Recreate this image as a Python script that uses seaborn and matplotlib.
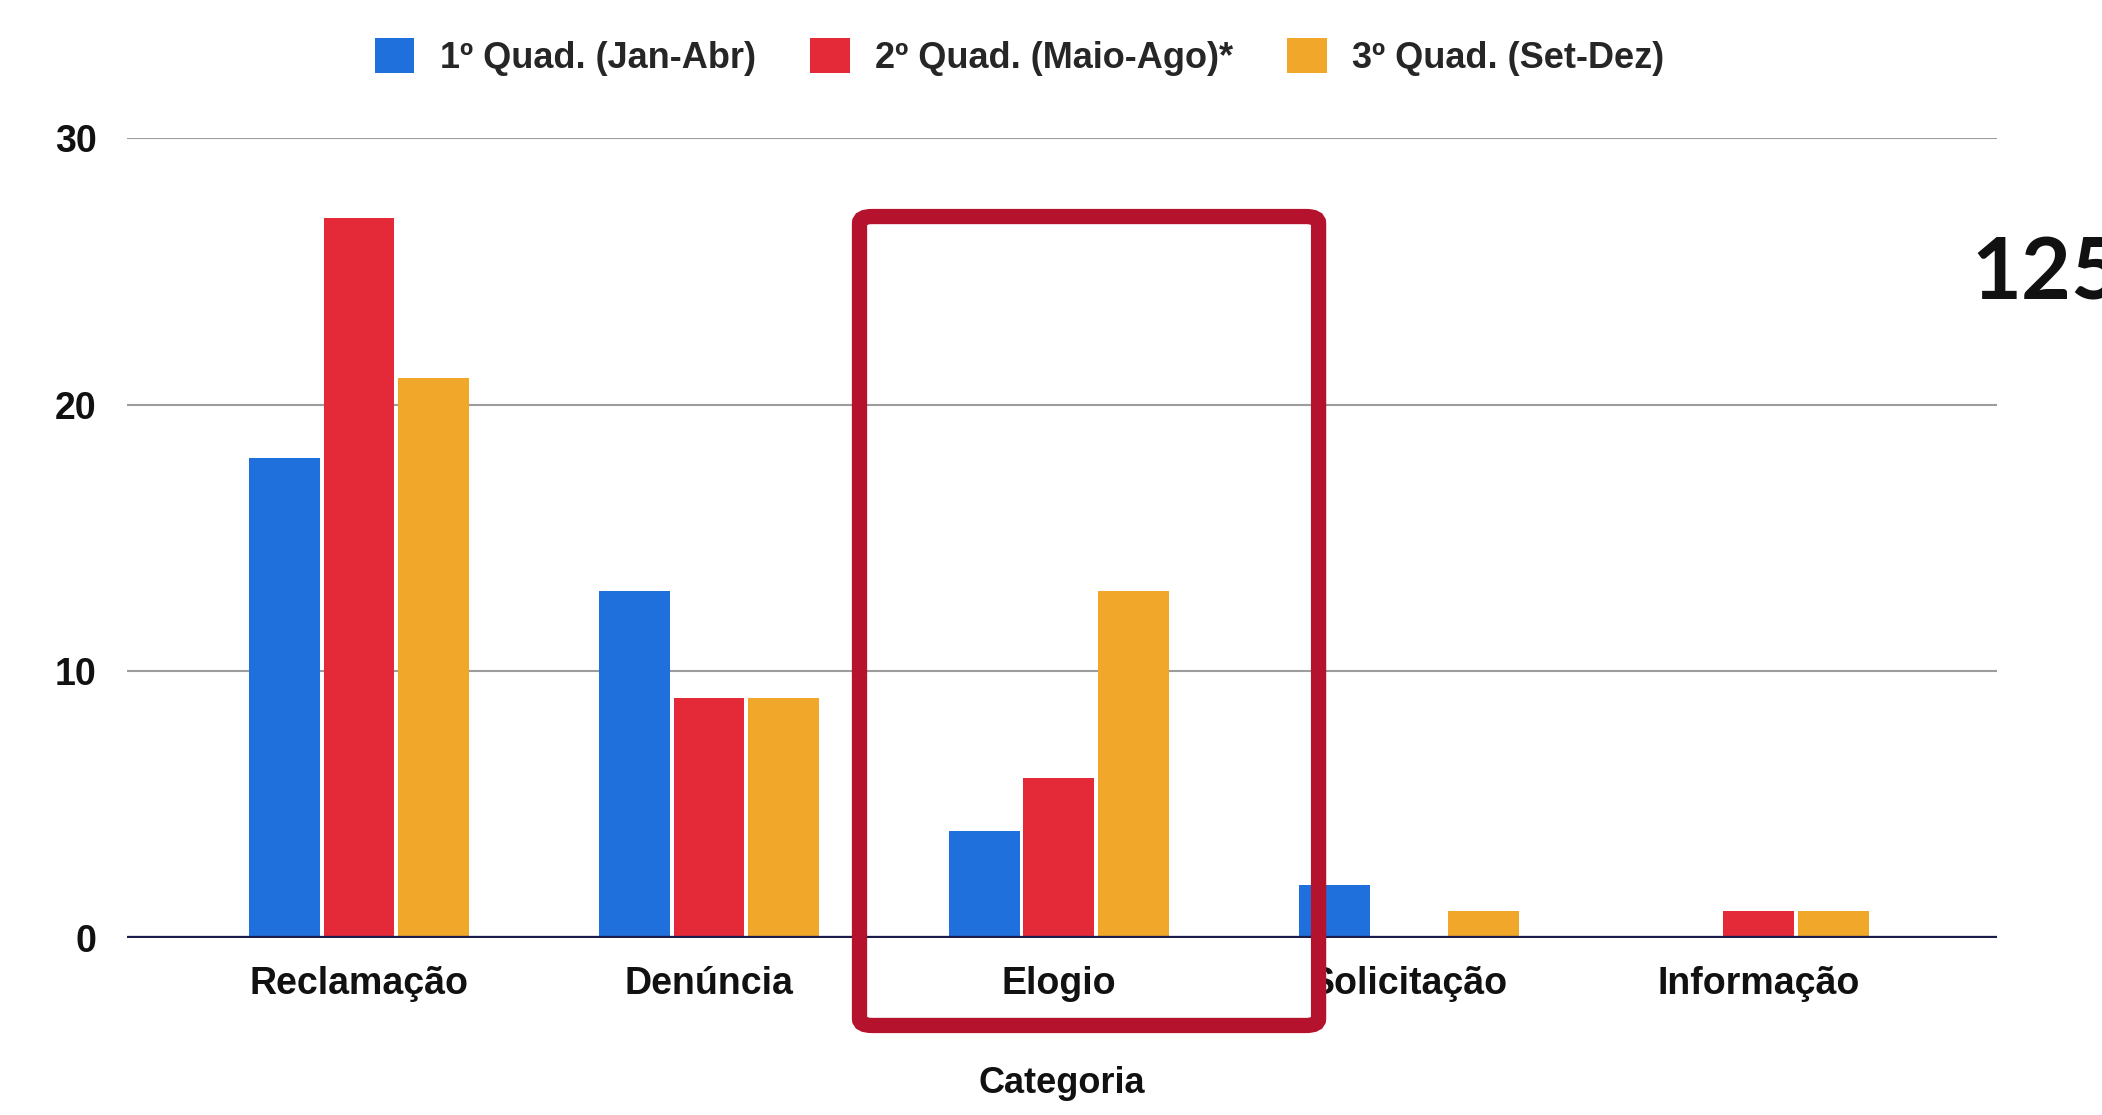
import matplotlib
matplotlib.use("Agg")
import matplotlib.pyplot as plt
from matplotlib.patches import Patch, FancyBboxPatch
import seaborn as sns
import pandas as pd

# Atendimentos por categoria e quadrimestre
categorias = ["Reclamação", "Denúncia", "Elogio", "Solicitação", "Informação"]
quad1 = [18, 13, 4, 2, 0]
quad2 = [27, 9, 6, 0, 1]
quad3 = [21, 9, 13, 1, 1]
series = ["1º Quad. (Jan-Abr)", "2º Quad. (Maio-Ago)*", "3º Quad. (Set-Dez)"]
cores = ["#1f6fdc", "#e42a38", "#f0a72a"]
yticks = [0, 10, 20, 30]
total_texto = "125"

df = pd.DataFrame({
    "Categoria": categorias * 3,
    "Quadrimestre": [series[0]] * 5 + [series[1]] * 5 + [series[2]] * 5,
    "Valor": quad1 + quad2 + quad3,
})

sns.set_theme(style="white")
plt.rcParams["font.family"] = ["Liberation Sans", "DejaVu Sans"]

fig = plt.figure(figsize=(21.02, 11.15), dpi=100)
ax = fig.add_axes([0.0604, 0.1587, 0.8896, 0.7173])

sns.barplot(data=df, x="Categoria", y="Valor", hue="Quadrimestre",
            order=categorias, hue_order=series, palette=cores,
            width=0.64, gap=0.05, saturation=1, legend=False,
            edgecolor="none", ax=ax, zorder=3)

ax.set_xlim(-0.663, 4.68)
ax.set_ylim(0, 30)
ax.set_yticks(yticks)
for y in yticks[1:]:
    ax.axhline(y, color="#9c9c9c", lw=1.5, zorder=1)
ax.axhline(0, color="#1c1c4a", lw=3.8, zorder=4)
for s in ax.spines.values():
    s.set_visible(False)

ax.tick_params(axis="both", length=0, labelsize=27)
ax.tick_params(axis="x", pad=20)
ax.tick_params(axis="y", pad=22)
for lab in ax.get_xticklabels() + ax.get_yticklabels():
    lab.set_fontweight("bold")
    lab.set_color("#111111")
ax.set_ylabel("")
ax.set_xlabel("Categoria", fontsize=26, fontweight="bold", color="#111111",
              labelpad=46)

handles = [Patch(facecolor=c, edgecolor="none") for c in cores]
fig.legend(handles, series, loc="center", bbox_to_anchor=(0.485, 0.949),
           ncol=3, frameon=False, prop={"size": 26, "weight": "bold"},
           handlelength=1.1, handleheight=1.1, handletextpad=0.7,
           columnspacing=1.5)

# Destaque em torno da categoria Elogio
box = FancyBboxPatch((0.4089, 0.0803), 0.2184, 0.7255,
                     boxstyle="round,pad=0,rounding_size=0.006",
                     transform=fig.transFigure, facecolor="none",
                     edgecolor="#b5122e", lw=11, zorder=10)
fig.patches.append(box)

fig.text(0.938, 0.731, total_texto, fontsize=62, fontweight="bold",
         family=["Lato", "DejaVu Sans"], color="#111111", ha="left",
         va="baseline")

fig.savefig("out.png", dpi=100, facecolor="white")
